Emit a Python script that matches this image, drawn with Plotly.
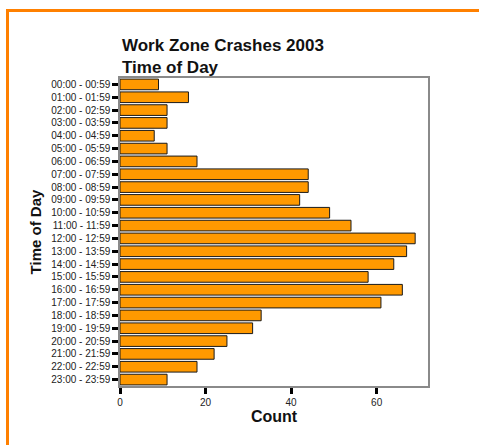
import plotly.graph_objects as go

hours = [f"{h:02d}:00 - {h:02d}:59" for h in range(24)]
counts = [9, 16, 11, 11, 8, 11, 18, 44, 44, 42, 49, 54,
          69, 67, 64, 58, 66, 61, 33, 31, 25, 22, 18, 11]
x_ticks = [0, 20, 40, 60]

W, H = 479, 445
L, R, T, B = 120, 51, 78, 59
pw, ph = W - L - R, H - T - B

def px2x(px):
    return (px - L) / pw

def py2y(py):
    return 1 - (py - T) / ph

FONT = "Arial, Liberation Sans, sans-serif"

fig = go.Figure()
fig.add_trace(go.Bar(
    x=counts, y=hours, orientation="h",
    marker=dict(color="#FF9900", line=dict(color="#1a1a1a", width=1)),
    width=0.83,
))

fig.update_layout(
    width=W, height=H,
    margin=dict(l=L, r=R, t=T, b=B),
    paper_bgcolor="white", plot_bgcolor="white",
    showlegend=False,
    font=dict(family=FONT, color="#222", size=10),
    title=dict(
        text="<b>Work Zone Crashes 2003<br>Time of Day</b>",
        font=dict(family=FONT, size=17, color="#111"),
        x=122 / W, xanchor="left", xref="container",
        y=1 - 51 / H, yanchor="top", yref="container",
    ),
    xaxis=dict(
        range=[0, 72], tickvals=x_ticks, ticks="outside", ticklen=6,
        tickwidth=3, tickcolor="#000", showgrid=False, zeroline=False,
        showline=True, linecolor="#8a8a8a", linewidth=1.5, mirror=True,
        tickfont=dict(size=10, color="#222"),
        title=dict(text="<b>Count</b>", font=dict(size=16, color="#111"), standoff=2),
    ),
    yaxis=dict(
        autorange="reversed", ticks="outside", ticklen=6, tickwidth=2.5,
        tickcolor="#000", showgrid=False, zeroline=False,
        showline=True, linecolor="#8a8a8a", linewidth=1.5, mirror=True,
        tickfont=dict(size=10, color="#222"),
        title=dict(text="<b>Time of Day</b>", font=dict(size=15, color="#111"), standoff=6),
    ),
    shapes=[
        dict(type="line", xref="paper", yref="paper",
             x0=px2x(7.5), x1=px2x(W + 5), y0=py2y(10.5), y1=py2y(10.5),
             line=dict(color="#FF8000", width=3)),
        dict(type="line", xref="paper", yref="paper",
             x0=px2x(7.5), x1=px2x(7.5), y0=py2y(9), y1=py2y(H + 5),
             line=dict(color="#FF8000", width=3)),
    ],
)

fig.write_html(
    "out.html",
    config={"displayModeBar": False},
    post_script="document.body.style.margin='0';document.body.style.overflow='hidden';",
)
